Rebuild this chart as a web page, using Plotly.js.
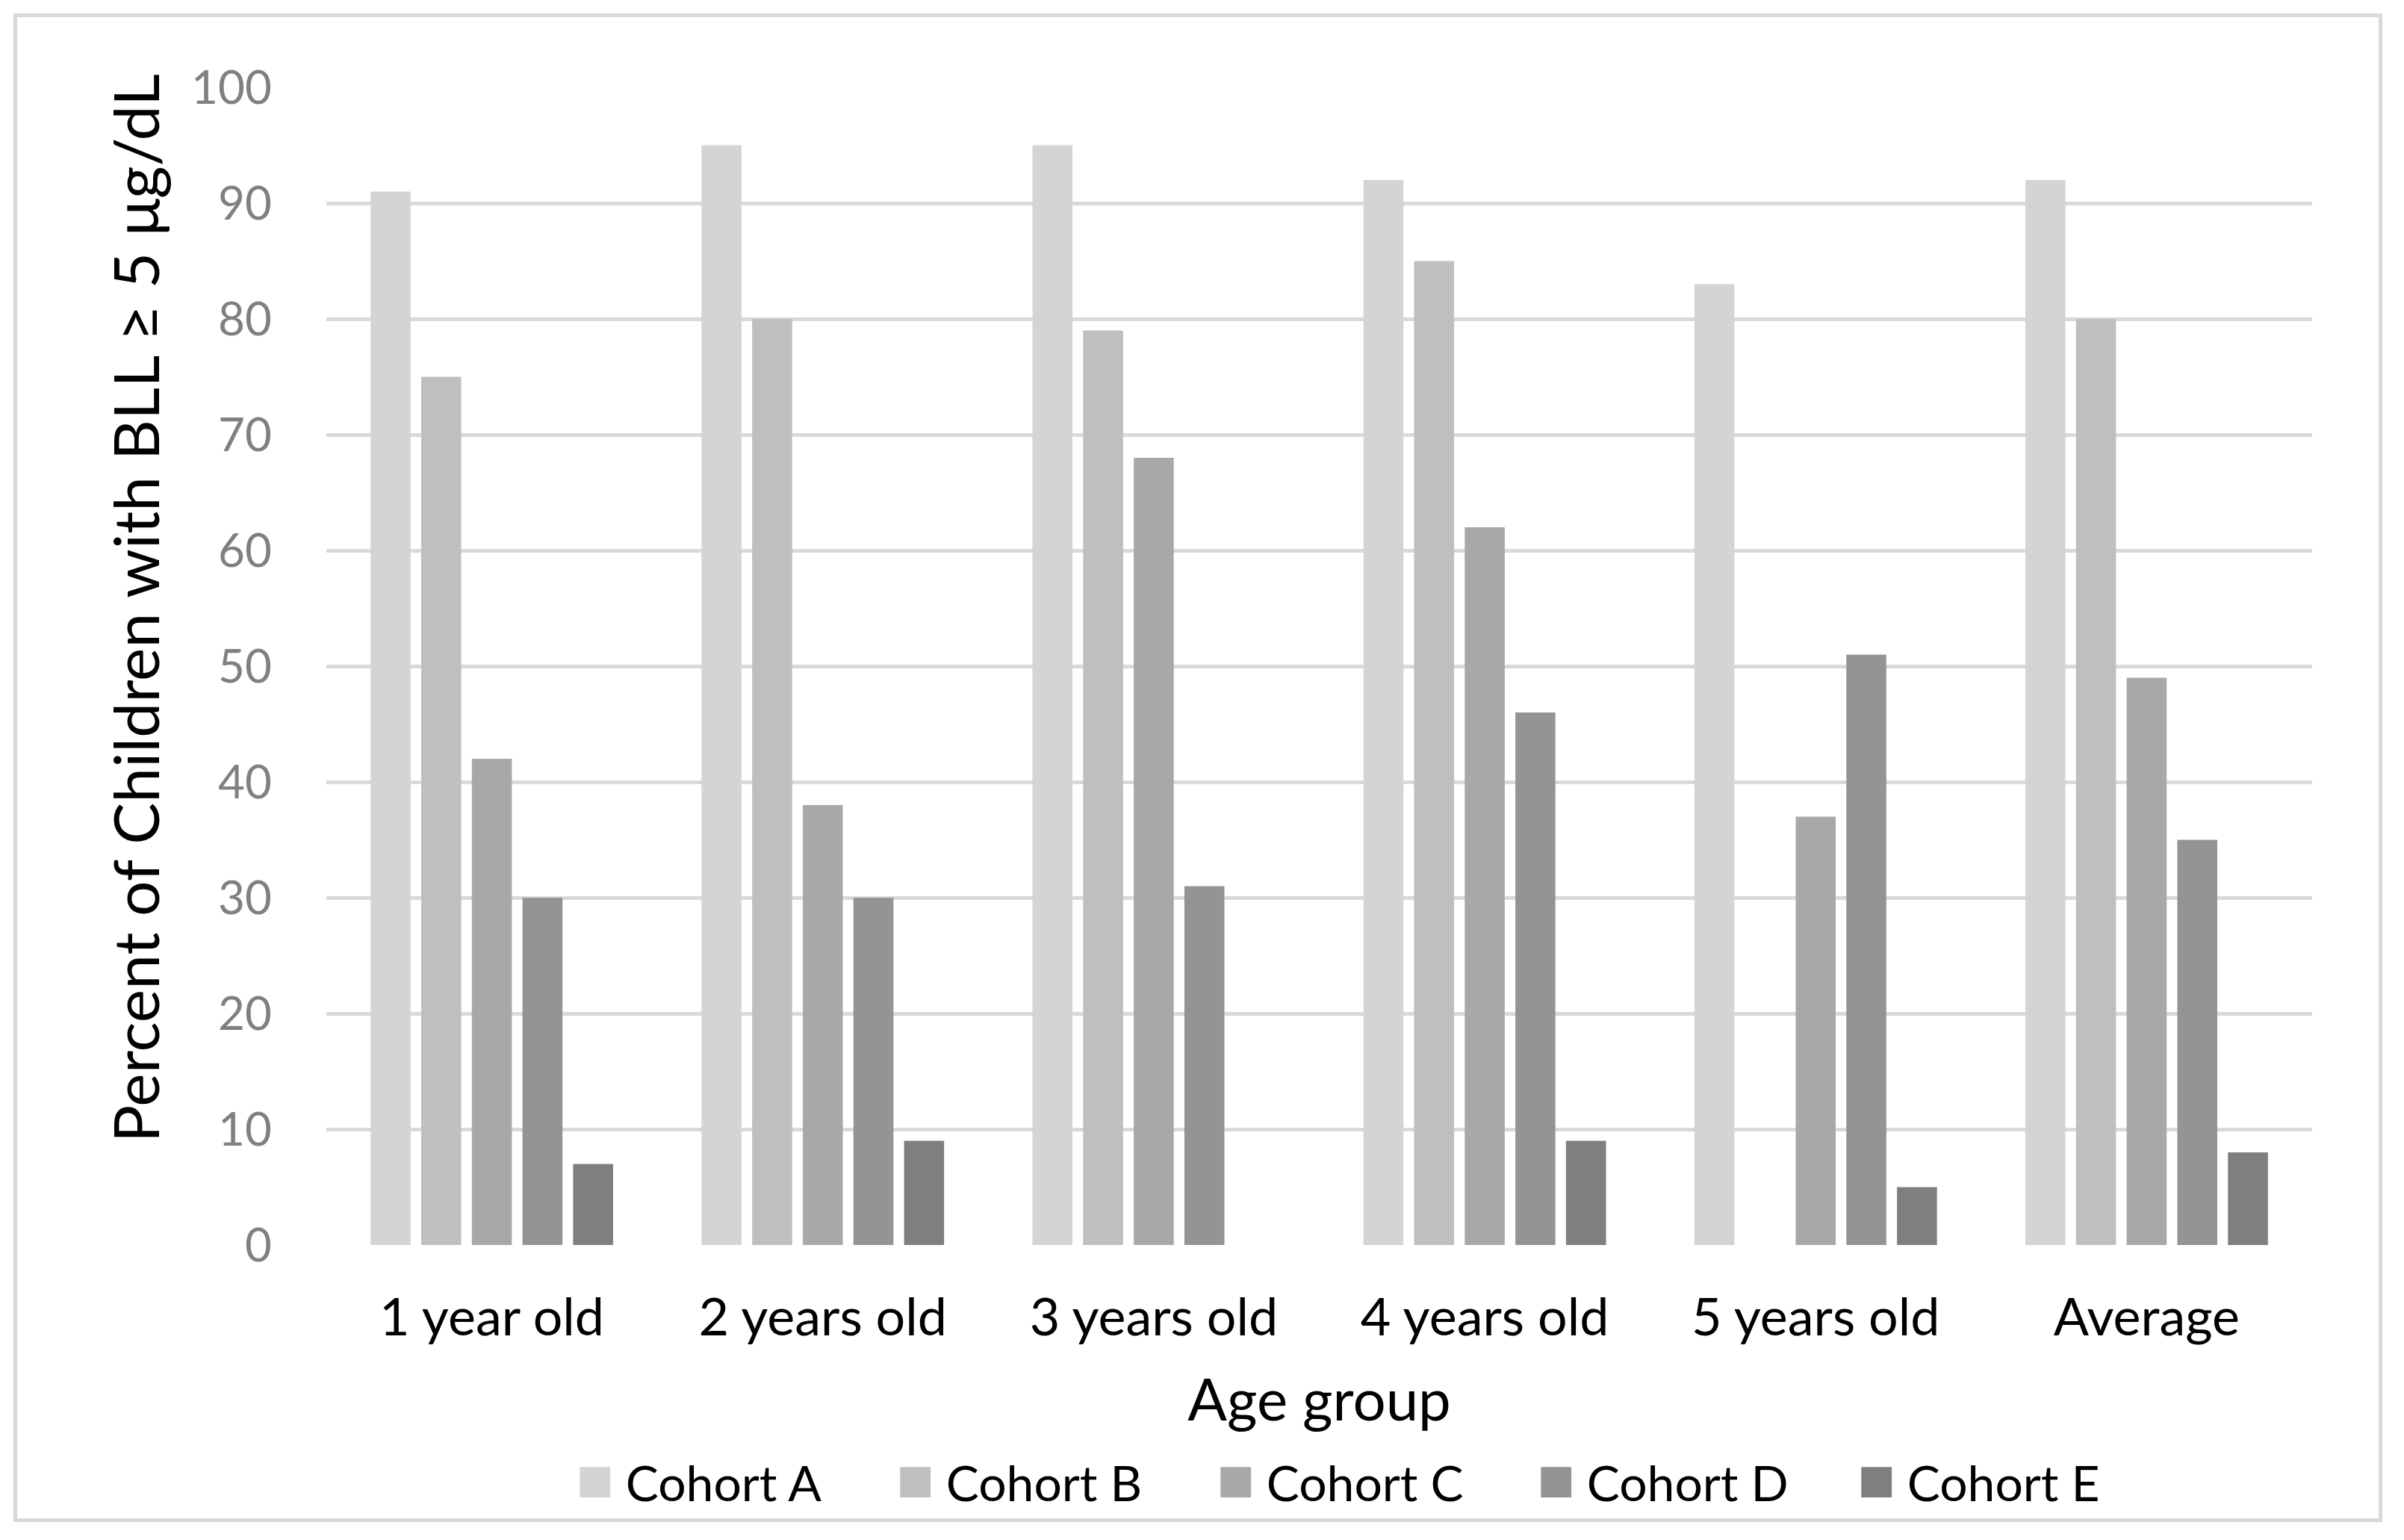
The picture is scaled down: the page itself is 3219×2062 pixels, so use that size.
<!DOCTYPE html>
<html>
<head>
<meta charset="utf-8">
<script src="https://cdn.plot.ly/plotly-3.0.1.min.js"></script>
<style>
  html, body { margin: 0; padding: 0; background: #ffffff; }
  #wrap { position: relative; width: 3219px; height: 2062px; }
  #chart { position: absolute; left: 0; top: 0; width: 3219px; height: 2062px; }
  #frame { position: absolute; left: 18px; top: 18px; width: 3172px; height: 2020px;
           border: 5px solid #d9d9d9; box-sizing: border-box; pointer-events: none; }
</style>
</head>
<body>
<div id="wrap">
  <div id="chart"></div>
  <div id="frame"></div>
</div>
<script>
const categories = ["1 year old", "2 years old", "3 years old", "4 years old", "5 years old", "Average"];
const seriesNames = ["Cohort A", "Cohort B", "Cohort C", "Cohort D", "Cohort E"];
const cohortA = [91, 95, 95, 92, 83, 92];
const cohortB = [75, 80, 79, 85, null, 80];
const cohortC = [42, 38, 68, 62, 37, 49];
const cohortD = [30, 30, 31, 46, 51, 35];
const cohortE = [7, 9, null, 9, 5, 8];
const yTicks = [0, 10, 20, 30, 40, 50, 60, 70, 80, 90, 100];
const xTitle = "Age group";
const yTitle = "Percent of Children with BLL ≥ 5 μg/dL";

const seriesValues = [cohortA, cohortB, cohortC, cohortD, cohortE];
const colors = ["#d4d4d4", "#bfbfbf", "#a8a8a8", "#949494", "#7f7f7f"];
const FONT = "Lato, 'Open Sans', sans-serif";

const traces = seriesValues.map((vals, i) => ({
  type: "bar",
  name: seriesNames[i],
  x: categories,
  y: vals,
  marker: { color: colors[i], line: { width: 0 } },
  hoverinfo: "skip"
}));

const layout = {
  width: 3219,
  height: 2062,
  paper_bgcolor: "rgba(0,0,0,0)",
  plot_bgcolor: "#ffffff",
  margin: { l: 437, r: 123, t: 117, b: 395, pad: 0 },
  barmode: "group",
  bargap: 0.235,
  bargroupgap: 0.21,
  font: { family: FONT, color: "#000000" },
  xaxis: {
    type: "category",
    showgrid: false,
    showline: false,
    zeroline: false,
    ticks: "",
    tickfont: { family: FONT, size: 70, color: "#000000" },
    ticklabelstandoff: 50,
    title: { text: xTitle, font: { family: FONT, size: 78, color: "#000000" }, standoff: 45 }
  },
  yaxis: {
    range: [0, 100],
    tickvals: yTicks,
    ticktext: yTicks.map(String),
    showgrid: true,
    gridcolor: "#d9d9d9",
    gridwidth: 5,
    zeroline: false,
    showline: false,
    ticks: "",
    tickfont: { family: FONT, size: 62, color: "#808080" },
    ticklabelstandoff: 72
  },
  annotations: [{
    text: yTitle,
    xref: "paper", yref: "paper",
    x: -0.0965, y: 0.55,
    xanchor: "center", yanchor: "middle",
    textangle: -90,
    showarrow: false,
    font: { family: FONT, size: 84, color: "#000000" }
  }],
  legend: {
    orientation: "h",
    x: 0.539,
    xanchor: "center",
    y: -0.205,
    yanchor: "middle",
    font: { family: FONT, size: 66, color: "#000000" },
    entrywidth: 384,
    entrywidthmode: "pixels",
    itemwidth: 30,
    bgcolor: "rgba(0,0,0,0)"
  },
  showlegend: true
};

Plotly.newPlot("chart", traces, layout, { displayModeBar: false, staticPlot: true }).then(() => {
  document.querySelectorAll("#chart .legend [clip-path]").forEach(el => el.removeAttribute("clip-path"));
  document.querySelectorAll("#chart .legendpoints path").forEach(p => {
    const t = p.getAttribute("transform") || "";
    p.setAttribute("transform", t + " translate(-21,0) scale(3.4)");
  });
});
</script>
</body>
</html>
